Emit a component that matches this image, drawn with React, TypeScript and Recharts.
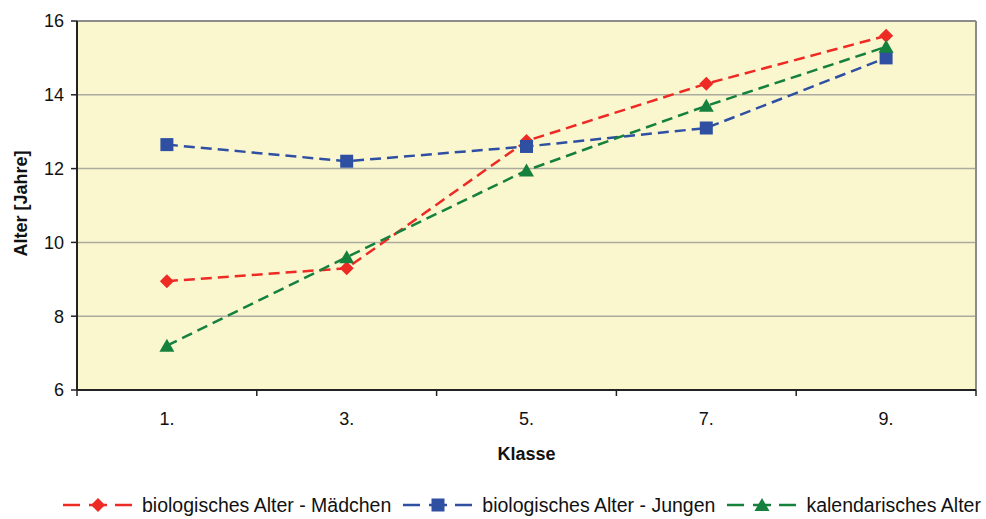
import * as React from "react";
import {
  CartesianGrid,
  Legend,
  Line,
  LineChart,
  ReferenceLine,
  XAxis,
  YAxis,
} from "recharts";

// Schulklassen on the x axis, mean ages in years per series.
const KLASSEN = ["1.", "3.", "5.", "7.", "9."];
const MAEDCHEN = [8.95, 9.3, 12.75, 14.3, 15.6];
const JUNGEN = [12.65, 12.2, 12.6, 13.1, 15.0];
const KALENDER = [7.2, 9.6, 11.95, 13.7, 15.3];
const Y_TICKS = [6, 8, 10, 12, 14, 16];

const SERIES = [
  { key: "maedchen", name: "biologisches Alter - Mädchen", color: "#ED2A24", shape: "diamond" },
  { key: "jungen", name: "biologisches Alter - Jungen", color: "#2F4FA3", shape: "square" },
  { key: "kalender", name: "kalendarisches Alter", color: "#16803D", shape: "triangle" },
] as const;

// Excel-style category axis: labels sit in the middle of each band, tick
// marks on the band borders, so the axis runs 0..n with points at i + 0.5.
const data = KLASSEN.map((k, i) => ({
  klasse: k,
  pos: i + 0.5,
  maedchen: MAEDCHEN[i],
  jungen: JUNGEN[i],
  kalender: KALENDER[i],
}));
const X_TICKS = Array.from({ length: KLASSEN.length * 2 + 1 }, (_, i) => i / 2);

const FONT = "'Liberation Sans', Arial, sans-serif";
const DASH = "11 6";

function Marker({ shape, cx, cy, color }: { shape: string; cx: number; cy: number; color: string }) {
  if (shape === "diamond") {
    const r = 7;
    return <polygon points={`${cx},${cy - r} ${cx + r},${cy} ${cx},${cy + r} ${cx - r},${cy}`} fill={color} />;
  }
  if (shape === "square") {
    const s = 13;
    return <rect x={cx - s / 2} y={cy - s / 2} width={s} height={s} fill={color} />;
  }
  return (
    <polygon points={`${cx},${cy - 7} ${cx + 7.5},${cy + 6} ${cx - 7.5},${cy + 6}`} fill={color} />
  );
}

function XTick(props: { x: number; y: number; payload: { value: number } }) {
  const { x, y, payload } = props;
  const v = payload.value;
  if (Number.isInteger(v)) {
    return <line x1={x} x2={x} y1={y} y2={y + 6} stroke="#222" strokeWidth={1.5} />;
  }
  const label = KLASSEN[Math.floor(v)] ?? "";
  return (
    <text x={x} y={y + 35} textAnchor="middle" fontSize={18} fontFamily={FONT} fill="#111">
      {label}
    </text>
  );
}

function LegendContent() {
  return (
    <div
      style={{
        height: 34,
        boxSizing: "border-box",
        display: "flex",
        alignItems: "flex-end",
        paddingLeft: 63,
        paddingBottom: 4,
        fontFamily: FONT,
        fontSize: 19.5,
        color: "#111",
        lineHeight: "20px",
        whiteSpace: "nowrap",
      }}
    >
      {SERIES.map((s) => (
        <div key={s.key} style={{ display: "flex", alignItems: "center", marginRight: 12 }}>
          <svg width={70} height={16} style={{ marginRight: 9 }}>
            <line x1={0} x2={17} y1={8} y2={8} stroke={s.color} strokeWidth={2.5} />
            <line x1={26} x2={44} y1={8} y2={8} stroke={s.color} strokeWidth={2.5} />
            <line x1={52} x2={69} y1={8} y2={8} stroke={s.color} strokeWidth={2.5} />
            <Marker shape={s.shape} cx={35} cy={8} color={s.color} />
          </svg>
          <span>{s.name}</span>
        </div>
      ))}
    </div>
  );
}

export default function App() {
  return (
    <div style={{ width: 986, height: 519, background: "#fff", overflow: "hidden" }}>
      <style>{"body{margin:0}"}</style>
      <LineChart width={986} height={519} data={data} margin={{ top: 21, right: 10, bottom: 0, left: 0 }}>
        <CartesianGrid vertical={false} fill="#FAF7CF" stroke="#AAAA9E" strokeWidth={1.5} />
        <XAxis
          dataKey="pos"
          type="number"
          domain={[0, KLASSEN.length]}
          ticks={X_TICKS}
          interval={0}
          tickLine={false}
          tickSize={0}
          tickMargin={0}
          tick={(p: any) => <XTick {...p} />}
          axisLine={{ stroke: "#222", strokeWidth: 2 }}
          height={95}
          label={{
            content: ({ viewBox }: any) => (
              <text
                x={viewBox.x + viewBox.width / 2}
                y={viewBox.y + 70}
                textAnchor="middle"
                fontSize={18}
                fontWeight="bold"
                fontFamily={FONT}
                fill="#111"
              >
                Klasse
              </text>
            ),
          }}
        />
        <YAxis
          domain={[6, 16]}
          ticks={Y_TICKS}
          interval={0}
          width={77}
          tickSize={6}
          tickMargin={7}
          tickLine={{ stroke: "#222", strokeWidth: 1.5 }}
          axisLine={{ stroke: "#222", strokeWidth: 2 }}
          tick={{ fontSize: 18, fontFamily: FONT, fill: "#111" }}
          label={{
            content: ({ viewBox }: any) => (
              <text
                x={0}
                y={0}
                transform={`translate(27, ${viewBox.y + viewBox.height / 2 - 2}) rotate(-90)`}
                textAnchor="middle"
                fontSize={18}
                fontWeight="bold"
                fontFamily={FONT}
                fill="#111"
              >
                Alter [Jahre]
              </text>
            ),
          }}
        />
        <ReferenceLine y={16} stroke="#8C8C8C" strokeWidth={2} />
        <ReferenceLine x={KLASSEN.length} stroke="#8C8C8C" strokeWidth={2} />
        {SERIES.map((s) => (
          <Line
            key={s.key}
            dataKey={s.key}
            name={s.name}
            type="linear"
            stroke={s.color}
            strokeWidth={2.5}
            strokeDasharray={DASH}
            dot={(p: any) => <Marker key={`${s.key}-${p.index}`} shape={s.shape} cx={p.cx} cy={p.cy} color={s.color} />}
            activeDot={false}
            isAnimationActive={false}
          />
        ))}
        <Legend verticalAlign="bottom" content={() => <LegendContent />} wrapperStyle={{ left: 0, width: 986 }} />
      </LineChart>
    </div>
  );
}
